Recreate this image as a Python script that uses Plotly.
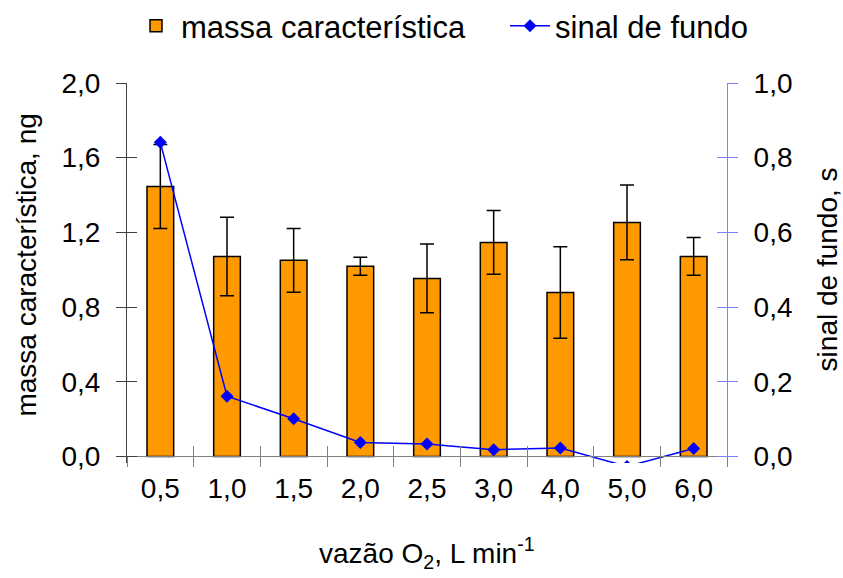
import plotly.graph_objects as go

# ---- data ----
categories = ["0,5", "1,0", "1,5", "2,0", "2,5", "3,0", "4,0", "5,0", "6,0"]
massa = [1.446, 1.071, 1.050, 1.018, 0.953, 1.146, 0.878, 1.253, 1.071]
massa_err = [0.225, 0.210, 0.171, 0.048, 0.184, 0.171, 0.245, 0.200, 0.101]
sinal = [0.841, 0.161, 0.101, 0.0375, 0.033, 0.018, 0.0225, -0.027, 0.021]

y_ticks_left = [0.0, 0.4, 0.8, 1.2, 1.6, 2.0]
y_ticks_right = [0.0, 0.2, 0.4, 0.6, 0.8, 1.0]

# ---- styling ----
FONT = "Liberation Sans, Arial, sans-serif"
FS = 28
XCOL = "#808080"
YCOL = "#404040"
Y2COL = "#8080FF"

pad_r = 0.0177              # small room below zero (line dips slightly under axis)
range_r = [-pad_r, 1.0]
range_l = [-2 * pad_r, 2.0]
x_pos = (2 * pad_r) / (2.0 + 2 * pad_r)

fig = go.Figure()

fig.add_trace(go.Bar(
    x=categories, y=massa, name="massa característica",
    width=0.4,
    marker=dict(color="#FF9900", line=dict(color="black", width=1.5)),
    error_y=dict(type="data", array=massa_err, visible=True,
                 color="black", thickness=1.5, width=7),
    xaxis="x", yaxis="y", legend="legend",
))

fig.add_trace(go.Scatter(
    x=categories, y=sinal, name="sinal de fundo",
    mode="lines+markers",
    line=dict(color="#0000FF", width=1.5),
    marker=dict(symbol="diamond", size=10, color="#0000FF"),
    xaxis="x", yaxis="y2", cliponaxis=True, legend="legend2",
))

# empty helper traces so the "inside" tick axes are drawn (cross ticks)
fig.add_trace(go.Scatter(x=categories, y=[None] * len(categories), xaxis="x3", yaxis="y",
                         showlegend=False, hoverinfo="skip"))
fig.add_trace(go.Scatter(x=categories, y=[None] * len(categories), xaxis="x", yaxis="y3",
                         showlegend=False, hoverinfo="skip"))
fig.add_trace(go.Scatter(x=categories, y=[None] * len(categories), xaxis="x", yaxis="y4",
                         showlegend=False, hoverinfo="skip"))

common_x = dict(type="category", categoryorder="array", categoryarray=categories,
                range=[-0.5, len(categories) - 0.5], anchor="free", position=x_pos,
                showgrid=False, zeroline=False, tickson="boundaries",
                ticklen=10, tickcolor=XCOL, tickwidth=1)

legend_common = dict(orientation="h", xref="container", xanchor="left",
                     y=1 - 26 / 578, yref="container", yanchor="middle",
                     font=dict(size=31), bgcolor="rgba(0,0,0,0)", itemwidth=40)

fig.update_layout(
    width=843, height=578,
    margin=dict(l=127, r=116, t=83, b=115, autoexpand=False),
    paper_bgcolor="white", plot_bgcolor="white",
    separators=",.",
    font=dict(family=FONT, size=FS, color="black"),
    showlegend=True,
    legend=dict(**legend_common, x=131 / 843),
    legend2=dict(**legend_common, x=505 / 843),
    bargap=0.6,
    xaxis=dict(**common_x, ticks="outside", showline=True, linecolor=XCOL, linewidth=1,
               tickfont=dict(size=FS), ticklabelstandoff=7),
    xaxis3=dict(**common_x, ticks="inside", overlaying="x", showline=False,
                showticklabels=False),
    yaxis=dict(range=range_l, tickvals=y_ticks_left, tickformat=".1f",
               ticks="outside", ticklen=10, tickcolor=YCOL, showline=True,
               linecolor=YCOL, linewidth=1, showgrid=False, zeroline=False,
               anchor="x", tickfont=dict(size=FS), ticklabelstandoff=10),
    yaxis3=dict(range=range_l, tickvals=y_ticks_left, ticks="inside", ticklen=10,
                tickcolor=YCOL, overlaying="y", side="left", anchor="x",
                showline=False, showgrid=False, zeroline=False, showticklabels=False),
    yaxis2=dict(range=range_r, tickvals=y_ticks_right, tickformat=".1f",
                ticks="outside", ticklen=10, tickcolor=Y2COL, showline=True,
                linecolor=Y2COL, linewidth=1, showgrid=False, zeroline=False,
                overlaying="y", side="right", anchor="x",
                tickfont=dict(size=FS, color="black"), ticklabelstandoff=10),
    yaxis4=dict(range=range_r, tickvals=y_ticks_right, ticks="inside", ticklen=10,
                tickcolor=Y2COL, overlaying="y", side="right", anchor="x",
                showline=False, showgrid=False, zeroline=False, showticklabels=False),
    annotations=[
        dict(text="massa característica, ng", xref="paper", yref="paper",
             x=-0.1667, y=0.522, textangle=-90, showarrow=False,
             xanchor="center", yanchor="middle", font=dict(size=FS)),
        dict(text="sinal de fundo, s", xref="paper", yref="paper",
             x=1.168, y=0.509, textangle=-90, showarrow=False,
             xanchor="center", yanchor="middle", font=dict(size=FS)),
        dict(text="vazão O<sub>2</sub>, L min<sup>-1</sup>", xref="paper", yref="paper",
             x=0.5, y=-0.237, showarrow=False,
             xanchor="center", yanchor="middle", font=dict(size=FS)),
    ],
)

fig.write_html("out.html")
